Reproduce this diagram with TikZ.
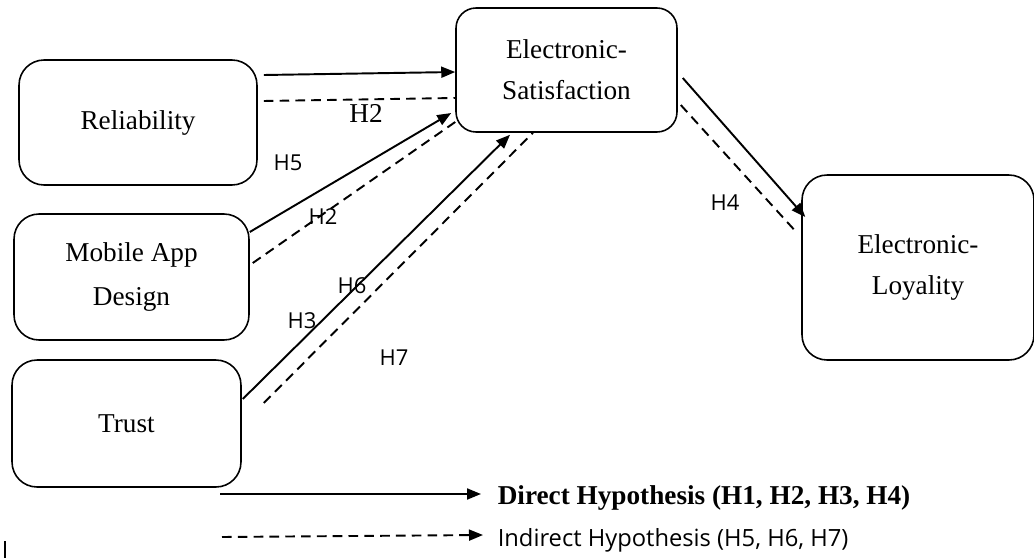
\documentclass[tikz,border=0pt]{standalone}
\usepackage{fontspec}
\setmainfont{Liberation Serif}
\newfontfamily\hypfont{Open Sans}
\usetikzlibrary{arrows.meta}

\begin{document}
\begin{tikzpicture} [x=0.02cm, y=-0.02cm,
        every node/.style={draw, rounded corners=0.5cm, line width=0.9pt, align=center, font=\fontsize{15.5}{23.5}\selectfont},
        hyp/.style={draw=none, inner sep=0pt, font=\hypfont\fontsize{12.5}{14}\selectfont},
        indir/.style={-, dash pattern=on 5.5pt off 3.5pt}]
            \useasboundingbox (0,0) rectangle (1034,558);

            \node (rel) at (138, 122.5)   [minimum width=4.76cm, minimum height=2.5cm]  {Reliability};
            \node (mob) at (131.5, 277)   [minimum width=4.7cm, minimum height=2.52cm]  {Mobile App\\[1pt]Design};
            \node (tru) at (126.5, 423.5) [minimum width=4.58cm, minimum height=2.54cm] {Trust};
            \node (es) at (566.5, 70)     [minimum width=4.42cm, minimum height=2.48cm, rounded corners=0.4cm] {Electronic-\\Satisfaction};
            \node (el) at (918, 267.5)    [minimum width=4.64cm, minimum height=3.7cm]  {Electronic-\\Loyality};

            \node [draw=none, inner sep=0pt] (h2a) at (366, 113) {H2};
            \node [hyp] (h5) at (288, 163) {H5};
            \node [hyp] (h2b) at (323, 217) {H2};
            \node [hyp] (h6) at (352, 286) {H6};
            \node [hyp] (h3) at (302, 321) {H3};
            \node [hyp] (h7) at (394, 358) {H7};
            \node [hyp] (h4) at (725, 203) {H4};

            \node [draw=none, inner sep=0pt, anchor=west, font=\bfseries\fontsize{15.5}{18}\selectfont] (dir) at (497, 498) {Direct Hypothesis (H1, H2, H3, H4)};
            \node [hyp, anchor=west, font=\hypfont\fontsize{13.5}{16}\selectfont] (ind) at (497, 540) {Indirect Hypothesis (H5, H6, H7)};
            \coordinate (dstart) at (220, 494);
            \coordinate (istart) at (222, 537);

            \begin{scope}[line width=1.1pt, -{Triangle[length=0.28cm, width=0.22cm]}]
                \draw ([shift={(6,-47.5)}]rel.east) -- ([shift={(0,2)}]es.west);
                \draw [indir] ([shift={(6,-21.5)}]rel.east) -- ([shift={(0,28)}]es.west);
                \draw ([shift={(0,-45)}]mob.east) -- ([shift={(-4,43)}]es.west);
                \draw [indir] ([shift={(3,-14)}]mob.east) -- ([shift={(0,52)}]es.west);
                \draw ([shift={(1,-24.5)}]tru.east) -- ([shift={(-56.5,2)}]es.south);
                \draw [indir] ([shift={(22,-20.5)}]tru.east) -- ([shift={(-33.5,0)}]es.south);
                \draw ([shift={(5,8)}]es.east) -- ([shift={(4,-50.5)}]el.west);
                \draw [indir] ([shift={(3,35)}]es.east) -- ([shift={(-5,-35.5)}]el.west);
                \draw (dstart) -- ([shift={(-16,-4)}]dir.west);
                \draw [dash pattern=on 5.5pt off 3.5pt] (istart) -- ([shift={(-14,-5)}]ind.west);
            \end{scope}
            \draw [line width=1pt] (5, 541) -- (5, 558);
        \end{tikzpicture}
\end{document}
